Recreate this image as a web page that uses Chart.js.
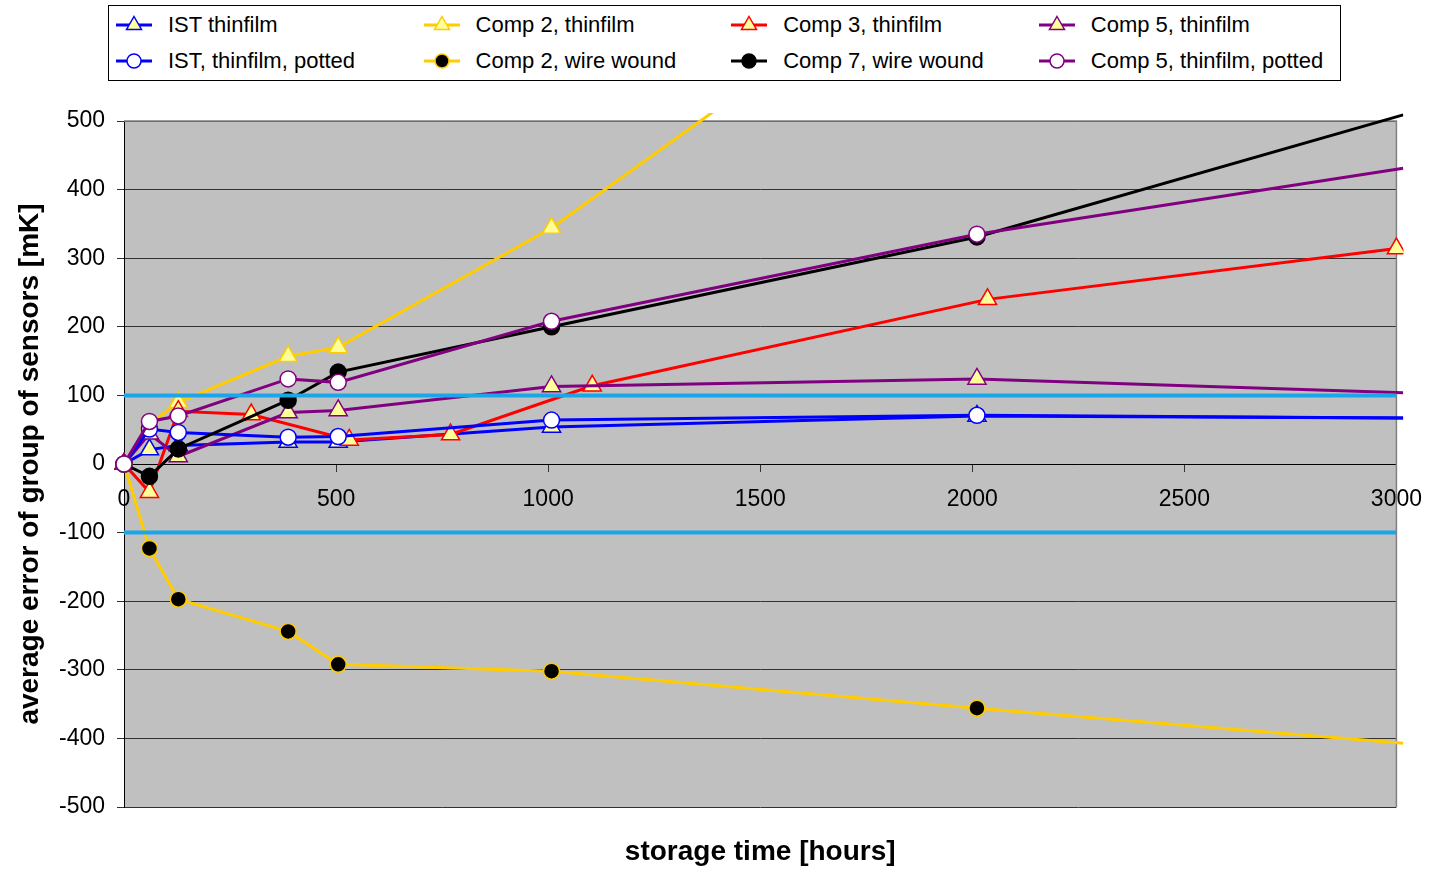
<!DOCTYPE html>
<html>
<head>
<meta charset="utf-8">
<title>Sensor drift</title>
<script src="https://cdn.jsdelivr.net/npm/chart.js@4.4.0/dist/chart.umd.min.js"></script>
<style>
  html, body { margin: 0; padding: 0; background: #fff; }
  #wrap { position: relative; width: 1437px; height: 869px; font-family: "Liberation Sans", Arial, sans-serif; }
  #chart { position: absolute; left: 0; top: 0; }
  #legendBox { position: absolute; left: 108px; top: 5px; width: 1233px; height: 76px; box-sizing: border-box; border: 1px solid #000; background: #fff; }
  .item { position: absolute; height: 26px; display: flex; align-items: center; font-size: 22px; color: #000; white-space: nowrap; }
  .item svg { margin-right: 16px; }
</style>
</head>
<body>
<div id="wrap">
  <canvas id="chart" width="1437" height="869"></canvas>
  <div id="legendBox"></div>
</div>
<script>
// storage time [hours] of the measurements
const hours = [0, 60, 128, 387, 505, 1008, 2011, 3016];
const comp2ThinHours = [0, 60, 128, 387, 505, 1008, 2011];
const comp3Hours = [0, 60, 128, 300, 531, 770, 1104, 2036, 3000];
const limitHours = [0, 3000];

// average error [mK]
const istThin = [0, 21, 27, 32, 32, 54, 70, 67];
const istPotted = [0, 51, 46, 39, 40, 64, 71, 67];
const comp2Thin = [0, 58, 90, 157, 170, 344, 790];
const comp2Wire = [0, -123, -197, -244, -292, -302, -356, -407];
const comp3Thin = [0, -41, 77, 72, 35, 43, 114, 240, 314];
const comp7Wire = [0, -18, 22, 93, 134, 200, 331, 509];
const comp5Thin = [0, 44, 11, 75, 78, 113, 124, 104];
const comp5Potted = [0, 62, 70, 124, 119, 208, 335, 431];
const upperLimit = [100, 100];
const lowerLimit = [-100, -100];

const yTicks = [-500, -400, -300, -200, -100, 0, 100, 200, 300, 400, 500];
const xTicks = [0, 500, 1000, 1500, 2000, 2500, 3000];

const FONT = '"Liberation Sans", Arial, sans-serif';
const PALE = '#FFFF99';

function pts(xs, ys) {
  return ys.map((v, i) => ({x: xs[i], y: v}));
}

// legend order (row by row, as in the original)
const series = [
  {label: 'IST thinfilm', xs: hours, ys: istThin, color: '#0000FF', marker: 'triangle', fill: PALE},
  {label: 'Comp 2, thinfilm', xs: comp2ThinHours, ys: comp2Thin, color: '#FFCC00', marker: 'triangle', fill: PALE},
  {label: 'Comp 3, thinfilm', xs: comp3Hours, ys: comp3Thin, color: '#FF0000', marker: 'triangle', fill: PALE},
  {label: 'Comp 5, thinfilm', xs: hours, ys: comp5Thin, color: '#800080', marker: 'triangle', fill: PALE},
  {label: 'IST, thinfilm, potted', xs: hours, ys: istPotted, color: '#0000FF', marker: 'circle', fill: '#FFFFFF'},
  {label: 'Comp 2, wire wound', xs: hours, ys: comp2Wire, color: '#FFCC00', marker: 'circle', fill: '#000000'},
  {label: 'Comp 7, wire wound', xs: hours, ys: comp7Wire, color: '#000000', marker: 'circle', fill: '#000000'},
  {label: 'Comp 5, thinfilm, potted', xs: hours, ys: comp5Potted, color: '#800080', marker: 'circle', fill: '#FFFFFF'}
];

const datasets = series.map((s, i) => ({
  label: s.label,
  data: pts(s.xs, s.ys),
  borderColor: s.color,
  borderWidth: 3,
  pointStyle: s.marker,
  pointBackgroundColor: s.fill,
  pointBorderColor: s.color,
  pointBorderWidth: 1.5,
  pointRadius: ctx => (ctx.raw && ctx.raw.x > 3000) ? 0 : (s.marker == 'triangle' ? 10.5 : 8),
  tension: 0,
  clip: {left: 10, top: 8, right: 7, bottom: 10},
  order: 20 - i
}));

datasets.push({
  label: 'upper', data: pts(limitHours, upperLimit), borderColor: '#1CA6EA', borderWidth: 4,
  pointRadius: 0, order: 1
});
datasets.push({
  label: 'lower', data: pts(limitHours, lowerLimit), borderColor: '#1CA6EA', borderWidth: 4,
  pointRadius: 0, order: 1
});

const plotBg = {
  id: 'plotBg',
  beforeDraw(chart) {
    const {ctx, chartArea: a} = chart;
    ctx.save();
    ctx.fillStyle = '#C0C0C0';
    ctx.fillRect(a.left, a.top, a.right - a.left, a.bottom - a.top);
    ctx.restore();
  },
  beforeDatasetsDraw(chart) {
    const {ctx, chartArea: a} = chart;
    ctx.save();
    ctx.strokeStyle = '#808080';
    ctx.lineWidth = 1.5;
    ctx.beginPath();
    ctx.moveTo(a.left, a.top);
    ctx.lineTo(a.right, a.top);
    ctx.lineTo(a.right, a.bottom);
    ctx.stroke();
    ctx.restore();
  }
};

Chart.defaults.font.family = FONT;
Chart.defaults.color = '#000';

new Chart(document.getElementById('chart'), {
  type: 'line',
  data: {datasets: datasets},
  plugins: [plotBg],
  options: {
    responsive: false,
    animation: false,
    layout: {padding: {top: 121, left: 0, right: 37, bottom: 0}},
    plugins: {legend: {display: false}, tooltip: {enabled: false}},
    scales: {
      x: {
        type: 'linear', position: {y: 0}, min: 0, max: 3000,
        afterBuildTicks: s => { s.ticks = xTicks.map(v => ({value: v})); },
        ticks: {font: {size: 23}, padding: 15, maxRotation: 0, color: '#000', callback: v => String(v)},
        grid: {drawOnChartArea: false, drawTicks: true, tickLength: 7, color: '#333'},
        border: {color: '#000', width: 1}
      },
      xTitle: {
        type: 'linear', position: 'bottom', min: 0, max: 3000,
        ticks: {display: false},
        grid: {display: false, drawTicks: false},
        border: {display: false},
        title: {display: true, text: 'storage time [hours]', color: '#000',
          font: {size: 28, weight: 'bold'}, padding: {top: 0, bottom: 0}},
        afterFit: s => { s.height = 62; }
      },
      y: {
        type: 'linear', position: 'left', min: -500, max: 500,
        afterBuildTicks: s => { s.ticks = yTicks.map(v => ({value: v})); },
        ticks: {font: {size: 23}, padding: 12, color: '#000', callback: v => String(v)},
        grid: {color: '#333', lineWidth: 1, tickLength: 7},
        border: {color: '#000', width: 1},
        title: {display: true, text: 'average error of group of sensors [mK]', color: '#000',
          font: {size: 28, weight: 'bold'}, padding: {top: 13, bottom: 0}},
        afterFit: s => { s.width = 124; }
      }
    }
  }
});

// html legend, 4 columns x 2 rows
function icon(s) {
  let mk;
  if (s.marker == 'triangle') {
    mk = `<polygon points="18,3.5 25.5,16.5 10.5,16.5" fill="${s.fill}" stroke="${s.color}" stroke-width="1.5"/>`;
  } else {
    mk = `<circle cx="18" cy="12" r="7" fill="${s.fill}" stroke="${s.color}" stroke-width="1.5"/>`;
  }
  return `<svg width="36" height="24" viewBox="0 0 36 24"><line x1="0" y1="12" x2="36" y2="12" stroke="${s.color}" stroke-width="3"/>${mk}</svg>`;
}

const wrap = document.getElementById('wrap');
series.forEach((s, i) => {
  const col = i % 4, row = Math.floor(i / 4);
  const el = document.createElement('div');
  el.className = 'item';
  el.style.left = (116 + col * 307.6) + 'px';
  el.style.top = (12 + row * 36) + 'px';
  el.innerHTML = icon(s) + '<span>' + s.label + '</span>';
  wrap.appendChild(el);
});
</script>
</body>
</html>
